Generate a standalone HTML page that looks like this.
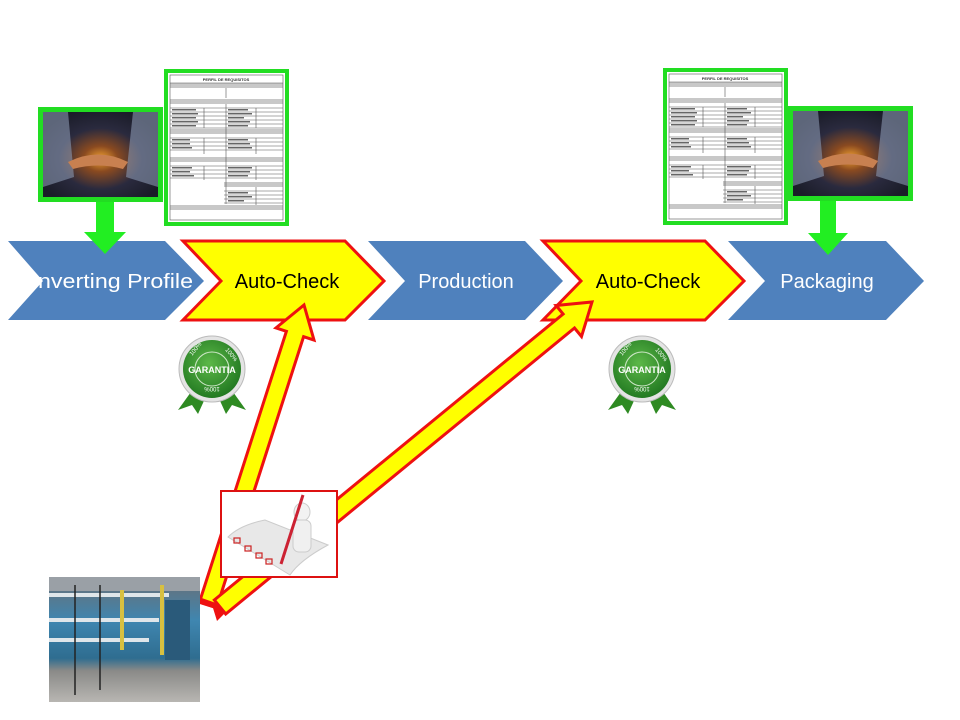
<!DOCTYPE html>
<html><head><meta charset="utf-8"><style>
html,body{margin:0;padding:0;background:#fff;width:960px;height:720px;overflow:hidden}
svg{display:block}
text{font-family:"Liberation Sans",sans-serif}
</style></head><body>
<svg width="960" height="720" viewBox="0 0 960 720" xmlns="http://www.w3.org/2000/svg">
<defs>
<radialGradient id="hs" cx="0.5" cy="0.55" r="0.6">
<stop offset="0" stop-color="#f0a030"/><stop offset="0.25" stop-color="#8a4a20"/><stop offset="0.6" stop-color="#2a2a3e"/><stop offset="1" stop-color="#1a1c28"/>
</radialGradient>
<linearGradient id="fac" x1="0" y1="0" x2="0" y2="1">
<stop offset="0" stop-color="#6a6e74"/><stop offset="0.35" stop-color="#3f86b0"/><stop offset="0.65" stop-color="#2f6d90"/><stop offset="0.75" stop-color="#8a8a88"/><stop offset="1" stop-color="#b8b6b2"/>
</linearGradient>
<radialGradient id="seal" cx="0.45" cy="0.4" r="0.6"><stop offset="0" stop-color="#5cb848"/><stop offset="1" stop-color="#237a22"/></radialGradient>
<g id="doc">
<rect x="0" y="0" width="121" height="153" fill="#fff" stroke="#22dd22" stroke-width="4"/>
<g fill="#c8c8c8">
<rect x="4" y="12" width="113" height="5"/><rect x="4" y="28" width="113" height="5"/>
<rect x="4" y="58" width="113" height="5"/><rect x="4" y="86" width="113" height="5"/>
<rect x="58" y="111" width="59" height="5"/><rect x="4" y="134" width="113" height="5"/>
</g>
<g stroke="#555" stroke-width="0.6" fill="none">
<rect x="4" y="4" width="113" height="145"/>
<line x1="4" y1="12" x2="117" y2="12"/><line x1="60" y1="17" x2="60" y2="27"/>
<path d="M4 37h113M4 41h113M4 45h113M4 49h113M4 53h113M4 57h113"/>
<path d="M4 67h113M4 71h113M4 75h113M4 79h113"/>
<path d="M4 95h113M4 99h113M4 103h113M4 107h113"/>
<path d="M58 120h59M58 124h59M58 128h59M58 132h59"/>
<path d="M60 33v100M38 37v20M38 67v16M38 95v14M90 37v20M90 67v16M90 95v14M90 116v18"/>
</g>
<g fill="#666">
<rect x="6" y="38" width="24" height="1.5"/><rect x="62" y="38" width="20" height="1.5"/>
<rect x="6" y="42" width="26" height="1.5"/><rect x="62" y="42" width="24" height="1.5"/>
<rect x="6" y="46" width="24" height="1.5"/><rect x="62" y="46" width="16" height="1.5"/>
<rect x="6" y="50" width="26" height="1.5"/><rect x="62" y="50" width="22" height="1.5"/>
<rect x="6" y="54" width="24" height="1.5"/><rect x="62" y="54" width="20" height="1.5"/>
<rect x="6" y="68" width="18" height="1.5"/><rect x="62" y="68" width="20" height="1.5"/>
<rect x="6" y="72" width="18" height="1.5"/><rect x="62" y="72" width="22" height="1.5"/>
<rect x="6" y="76" width="20" height="1.5"/><rect x="62" y="76" width="24" height="1.5"/>
<rect x="6" y="96" width="20" height="1.5"/><rect x="62" y="96" width="24" height="1.5"/>
<rect x="6" y="100" width="18" height="1.5"/><rect x="62" y="100" width="22" height="1.5"/>
<rect x="6" y="104" width="22" height="1.5"/><rect x="62" y="104" width="20" height="1.5"/>
<rect x="62" y="121" width="20" height="1.5"/><rect x="62" y="125" width="24" height="1.5"/>
<rect x="62" y="129" width="16" height="1.5"/>
</g>
<text x="60" y="10" font-size="4" text-anchor="middle" font-weight="bold" fill="#333">PERFIL DE REQUISITOS</text>
</g>
<g id="hand">
<rect x="0" y="0" width="125" height="95" fill="#22dd22"/>
<rect x="5" y="5" width="115" height="85" fill="url(#hs)"/>
<path d="M5 5 L30 5 L36 70 L5 80Z" fill="#8a98b0" opacity="0.6"/>
<path d="M120 5 L95 5 L88 70 L120 80Z" fill="#8a98b0" opacity="0.6"/>
<path d="M30 55 Q60 40 90 55 L85 62 Q60 55 35 62Z" fill="#c88050"/>
</g>
</defs>

<!-- chevrons -->
<polygon points="8,241 165,241 204,281 165,320 8,320 43,281" fill="#4f81bd"/>
<polygon points="183,241 345,241 384,281 345,320 183,320 221,281" fill="#ffff00" stroke="#ee1111" stroke-width="3"/>
<polygon points="368,241 525,241 563,281 525,320 368,320 405,281" fill="#4f81bd"/>
<polygon points="543,241 705,241 744,281 705,320 543,320 581,281" fill="#ffff00" stroke="#ee1111" stroke-width="3"/>
<polygon points="728,241 886,241 924,281 886,320 728,320 765,281" fill="#4f81bd"/>
<text x="38" y="288" font-size="20" fill="#fff" textLength="155" lengthAdjust="spacingAndGlyphs">nverting Profile</text>
<text x="287" y="288" font-size="20" fill="#000" text-anchor="middle">Auto-Check</text>
<text x="466" y="288" font-size="20" fill="#fff" text-anchor="middle">Production</text>
<text x="648" y="288" font-size="20" fill="#000" text-anchor="middle">Auto-Check</text>
<text x="827" y="288" font-size="20" fill="#fff" text-anchor="middle">Packaging</text>

<!-- images top -->
<use href="#hand" x="38" y="107"/>
<use href="#doc" x="166" y="71"/>
<use href="#doc" x="665" y="70"/>
<use href="#hand" x="788" y="106"/>
<polygon points="96,202 114,202 114,232 126,232 105,254 84,232 96,232" fill="#22ee22"/>
<polygon points="820,201 836,201 836,233 848,233 828,255 808,233 820,233" fill="#22ee22"/>

<!-- seals -->
<g id="sealg">
<polygon points="196,385 178,410 192,405 198,414 208,392" fill="#2e8a22"/>
<polygon points="228,385 246,410 232,405 226,414 216,392" fill="#2e8a22"/>
<circle cx="212" cy="369" r="33" fill="#e4e4e4" stroke="#bbb"/>
<circle cx="212" cy="369" r="29" fill="url(#seal)"/>
<circle cx="212" cy="369" r="17" fill="none" stroke="#cfe8c8" stroke-width="1"/>
<text x="212" y="373" font-size="9" font-weight="bold" fill="#fff" text-anchor="middle">GARANTIA</text>
<text x="192" y="356" font-size="6" fill="#fff" transform="rotate(-50 192 356)">100%</text>
<text x="225" y="350" font-size="6" fill="#fff" transform="rotate(50 225 350)">100%</text>
<text x="212" y="393" font-size="6" fill="#fff" text-anchor="middle" transform="rotate(180 212 390)">100%</text>
</g>
<use href="#sealg" x="430" y="0"/>

<!-- arrows -->
<g fill="#ffff00" stroke="#ee1111" stroke-width="3" stroke-linejoin="miter">
<polygon points="199.4,602.3 286.4,331.3 276,327.9 304,305 314,340.1 303.6,336.7 216.6,607.7"/>
<polygon points="214.3,600 563.1,314 556.1,305.5 592,302 581.5,336.5 574.5,328 225.7,614"/>
</g>
<polygon points="196,596 216,603 226,612 217,621 213,608 194,602" fill="#ee1111"/>

<!-- checklist box -->
<rect x="221" y="491" width="116" height="86" fill="#fff" stroke="#dd1111" stroke-width="2"/>
<path d="M228 537 Q240 525 265 520 L328 545 Q300 560 290 575 Z" fill="#e8e8e8" stroke="#ccc"/>
<g fill="none" stroke="#c22" stroke-width="1.2">
<rect x="234" y="538" width="6" height="5"/><rect x="245" y="546" width="6" height="5"/>
<rect x="256" y="553" width="6" height="5"/><rect x="266" y="559" width="6" height="5"/>
</g>
<ellipse cx="302" cy="512" rx="8" ry="9" fill="#f2f2f2" stroke="#ccc"/>
<rect x="293" y="520" width="18" height="32" rx="6" fill="#f0f0f0" stroke="#ccc"/>
<line x1="303" y1="495" x2="281" y2="564" stroke="#cc2233" stroke-width="3"/>

<!-- factory -->
<rect x="49" y="577" width="151" height="125" fill="url(#fac)"/>
<rect x="49" y="577" width="151" height="14" fill="#9aa0a6"/>
<path d="M49 595h120M49 620h110M49 640h100" stroke="#dfe6ea" stroke-width="4"/>
<rect x="120" y="590" width="4" height="60" fill="#d8c040"/>
<rect x="160" y="585" width="4" height="70" fill="#d8c040"/>
<path d="M75 585v110M100 585v105" stroke="#222" stroke-width="1.5"/>
<rect x="165" y="600" width="25" height="60" fill="#2a5a7a"/>
</svg>
</body></html>
